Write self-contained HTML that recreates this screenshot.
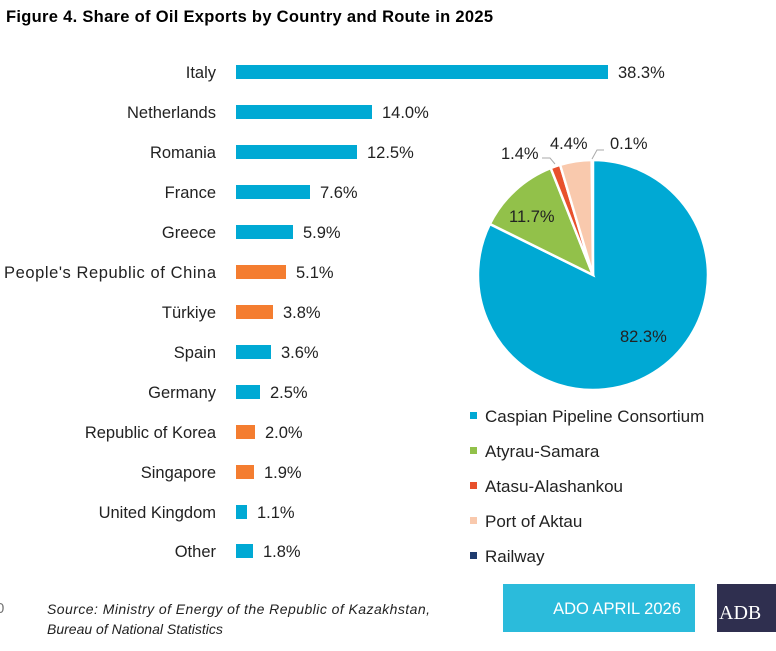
<!DOCTYPE html>
<html><head><style>
body{margin:0;width:776px;height:646px;background:#fff;overflow:hidden;font-family:"Liberation Sans",sans-serif}
</style></head><body>
<svg width="776" height="646" xmlns="http://www.w3.org/2000/svg" font-family="Liberation Sans, sans-serif">
<text x="6" y="22" font-size="16.5" font-weight="bold" fill="#000" textLength="487">Figure 4. Share of Oil Exports by Country and Route in 2025</text>
<g font-size="16.5" fill="#222">
<g text-anchor="end">
<text x="216" y="78">Italy</text>
<text x="216" y="118">Netherlands</text>
<text x="216" y="158">Romania</text>
<text x="216" y="198">France</text>
<text x="216" y="238">Greece</text>
<text x="216" y="278" textLength="212">People's Republic of China</text>
<text x="216" y="318">Türkiye</text>
<text x="216" y="358">Spain</text>
<text x="216" y="398">Germany</text>
<text x="216" y="438">Republic of Korea</text>
<text x="216" y="478">Singapore</text>
<text x="216" y="518">United Kingdom</text>
<text x="216" y="557">Other</text>
</g>
<rect x="236" y="65" width="372" height="14" fill="#00a9d4"/><text x="618" y="78">38.3%</text>
<rect x="236" y="105" width="136" height="14" fill="#00a9d4"/><text x="382" y="118">14.0%</text>
<rect x="236" y="145" width="121" height="14" fill="#00a9d4"/><text x="367" y="158">12.5%</text>
<rect x="236" y="185" width="74" height="14" fill="#00a9d4"/><text x="320" y="198">7.6%</text>
<rect x="236" y="225" width="57" height="14" fill="#00a9d4"/><text x="303" y="238">5.9%</text>
<rect x="236" y="265" width="50" height="14" fill="#f47d30"/><text x="296" y="278">5.1%</text>
<rect x="236" y="305" width="37" height="14" fill="#f47d30"/><text x="283" y="318">3.8%</text>
<rect x="236" y="345" width="35" height="14" fill="#00a9d4"/><text x="281" y="358">3.6%</text>
<rect x="236" y="385" width="24" height="14" fill="#00a9d4"/><text x="270" y="398">2.5%</text>
<rect x="236" y="425" width="19" height="14" fill="#f47d30"/><text x="265" y="438">2.0%</text>
<rect x="236" y="465" width="18" height="14" fill="#f47d30"/><text x="264" y="478">1.9%</text>
<rect x="236" y="505" width="11" height="14" fill="#00a9d4"/><text x="257" y="518">1.1%</text>
<rect x="236" y="544" width="17" height="14" fill="#00a9d4"/><text x="263" y="557">1.8%</text>
</g>
<g stroke="#fff" stroke-width="2.5">
<path d="M593,275 L593,160 A115,115 0 1 1 489.9,224 Z" fill="#00a9d4"/>
<path d="M593,275 L489.9,224 A115,115 0 0 1 550.7,168.1 Z" fill="#92c14a"/>
<path d="M593,275 L550.7,168.1 A115,115 0 0 1 560.1,164.8 Z" fill="#e8502c"/>
<path d="M593,275 L560.1,164.8 A115,115 0 0 1 591.6,160 Z" fill="#f9c9ad"/>
</g>
<polyline points="542,158 550,158 555,164" fill="none" stroke="#aaa"/>
<polyline points="592,159 597,150 604,150" fill="none" stroke="#aaa"/>
<g font-size="16.5" fill="#222">
<text x="501" y="159">1.4%</text>
<text x="550" y="149">4.4%</text>
<text x="610" y="149">0.1%</text>
<text x="509" y="222">11.7%</text>
<text x="620" y="342">82.3%</text>
</g>
<g font-size="17" fill="#222">
<rect x="470" y="412" width="7" height="7" fill="#00a9d4"/><text x="485" y="422">Caspian Pipeline Consortium</text>
<rect x="470" y="447" width="7" height="7" fill="#92c14a"/><text x="485" y="457">Atyrau-Samara</text>
<rect x="470" y="482" width="7" height="7" fill="#e8502c"/><text x="485" y="492">Atasu-Alashankou</text>
<rect x="470" y="517" width="7" height="7" fill="#f9c9ad"/><text x="485" y="527">Port of Aktau</text>
<rect x="470" y="552" width="7" height="7" fill="#1f3b6e"/><text x="485" y="562">Railway</text>
</g>
<text x="-4" y="613" font-size="15" fill="#777">0</text>
<g font-size="14" font-style="italic" fill="#222">
<text x="47" y="614" textLength="383">Source: Ministry of Energy of the Republic of Kazakhstan,</text>
<text x="47" y="634">Bureau of National Statistics</text>
</g>
<rect x="503" y="584" width="192" height="48" fill="#2bbbdb"/>
<text x="617" y="614" font-size="16.5" fill="#fff" text-anchor="middle">ADO APRIL 2026</text>
<rect x="717" y="584" width="59" height="48" fill="#2f2f4f"/>
<text x="719" y="619" font-size="20" fill="#fff" font-family="Liberation Serif, serif">ADB</text>
</svg>
</body></html>
